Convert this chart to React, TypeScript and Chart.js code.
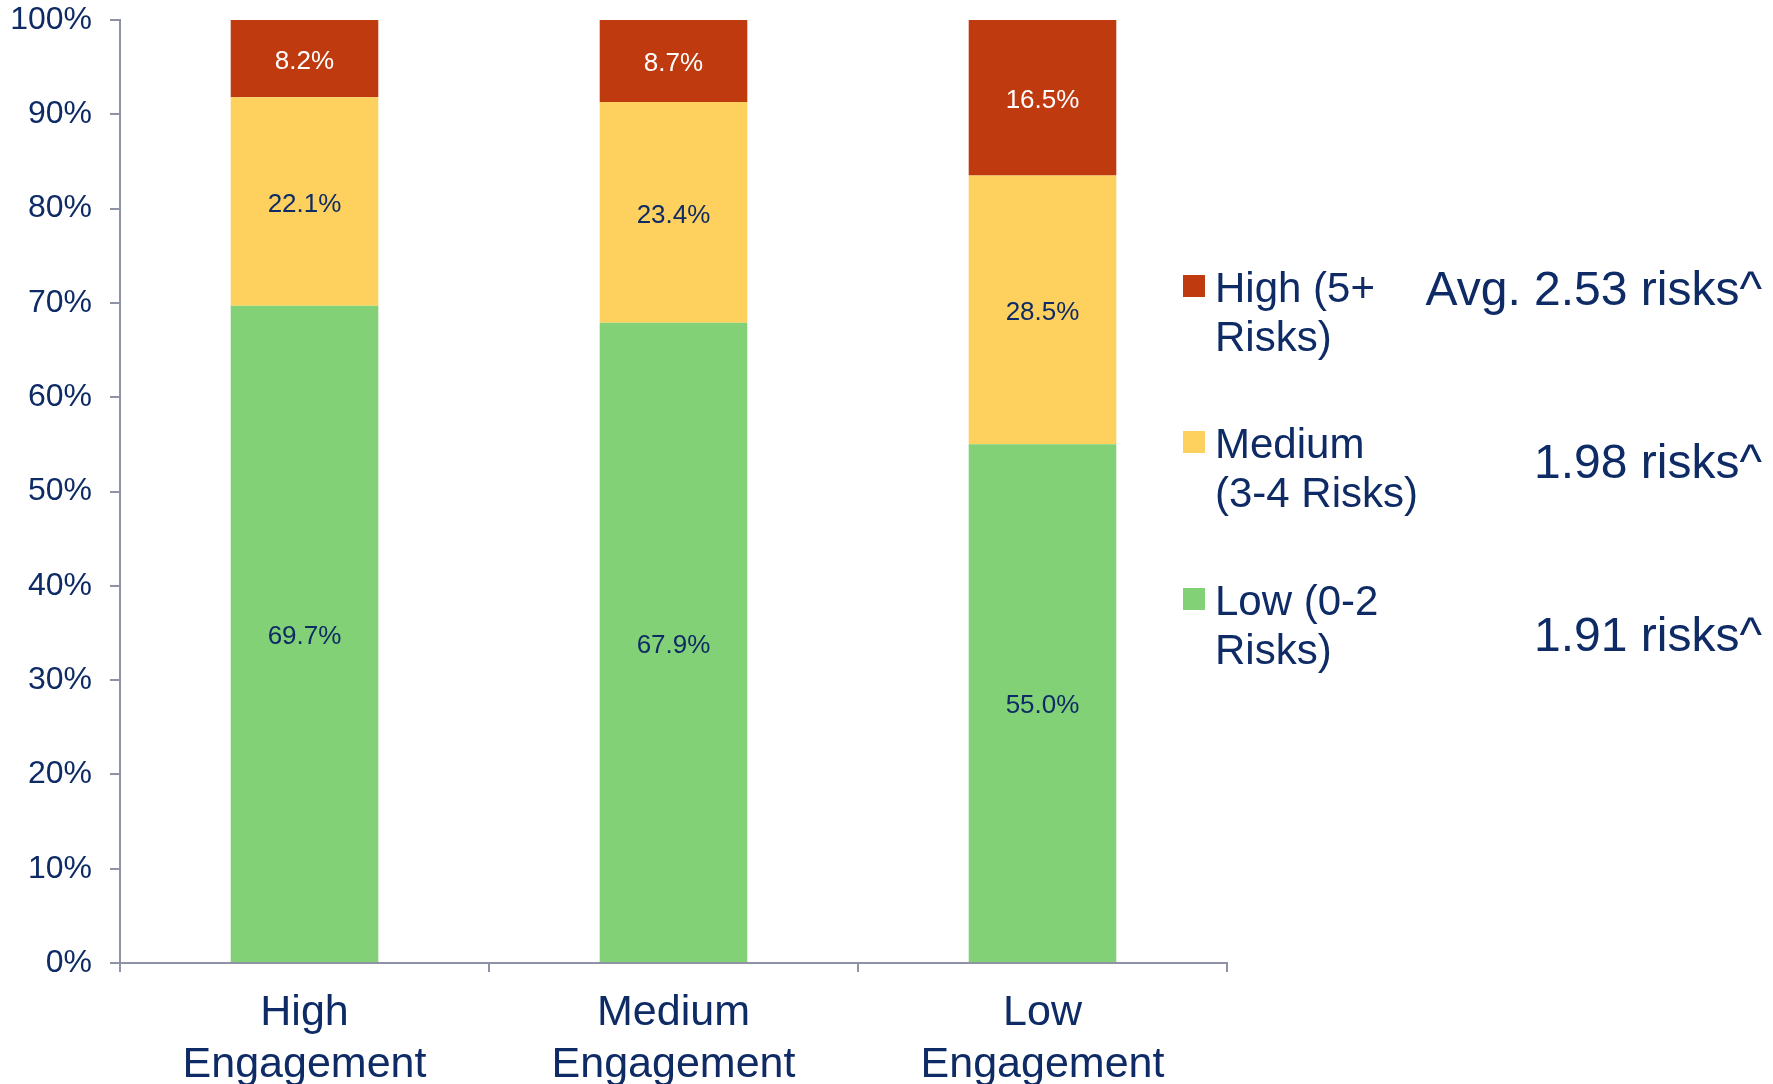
import React, { useEffect, useRef } from "react";
import { Chart, registerables } from "chart.js";

Chart.register(...registerables);

// Engagement groups along the x axis
const categories: string[][] = [
  ["High", "Engagement"],
  ["Medium", "Engagement"],
  ["Low", "Engagement"],
];

// Share of people in each risk band (%)
const lowRisk = [69.7, 67.9, 55.0];
const mediumRisk = [22.1, 23.4, 28.5];
const highRisk = [8.2, 8.7, 16.5];

// Legend text, top to bottom (High, Medium, Low)
const legendLabels: string[][] = [
  ["High (5+", "Risks)"],
  ["Medium", "(3-4 Risks)"],
  ["Low (0-2", "Risks)"],
];

// Average number of risks per band
const avgLabels = ["Avg. 2.53 risks^", "1.98 risks^", "1.91 risks^"];

const yTicks = [0, 10, 20, 30, 40, 50, 60, 70, 80, 90, 100];

const NAVY = "#0E2B66";
const AXIS = "#8D93A5";
const FONT = "'Liberation Sans', Arial, Helvetica, sans-serif";
const COLORS = { low: "#82D177", medium: "#FED05D", high: "#C03A10" };

const overlayPlugin = {
  id: "overlay",
  afterDatasetsDraw(chart: any) {
    const ctx = chart.ctx;
    ctx.save();
    // value labels centred in each segment
    ctx.font = `26px ${FONT}`;
    ctx.textAlign = "center";
    ctx.textBaseline = "middle";
    chart.data.datasets.forEach((ds: any, di: number) => {
      const meta = chart.getDatasetMeta(di);
      meta.data.forEach((bar: any, i: number) => {
        const v = ds.data[i];
        const { x, y, base } = bar.getProps(["x", "y", "base"], true);
        ctx.fillStyle = ds.labelColor;
        ctx.fillText(v.toFixed(1) + "%", x, (y + base) / 2 + 3);
      });
    });

    // legend (drawn top to bottom: High, Medium, Low)
    const order = [2, 1, 0];
    const boxY = [286, 442, 599];
    const textY = [290, 446, 603];
    const avgY = [292, 465, 638];
    order.forEach((di, r) => {
      const ds = chart.data.datasets[di];
      ctx.fillStyle = ds.backgroundColor;
      ctx.fillRect(1183, boxY[r] - 11, 22, 22);
      ctx.fillStyle = NAVY;
      ctx.font = `42px ${FONT}`;
      ctx.textAlign = "left";
      ctx.textBaseline = "middle";
      legendLabels[r].forEach((line, li) => {
        ctx.fillText(line, 1215, textY[r] + li * 49);
      });
      ctx.font = `48px ${FONT}`;
      ctx.textAlign = "right";
      ctx.fillText(avgLabels[r], 1762, avgY[r]);
    });
    ctx.restore();
  },
};

export default function App() {
  const ref = useRef<HTMLCanvasElement>(null);

  useEffect(() => {
    if (!ref.current) return;
    const chart = new Chart(ref.current, {
      type: "bar",
      data: {
        labels: categories,
        datasets: [
          { label: "Low (0-2 Risks)", data: lowRisk, backgroundColor: COLORS.low, labelColor: NAVY } as any,
          { label: "Medium (3-4 Risks)", data: mediumRisk, backgroundColor: COLORS.medium, labelColor: NAVY } as any,
          { label: "High (5+ Risks)", data: highRisk, backgroundColor: COLORS.high, labelColor: "#FFFFFF" } as any,
        ],
      },
      options: {
        responsive: false,
        animation: false,
        layout: { padding: { top: 20, right: 546, bottom: 0, left: 0 } },
        datasets: { bar: { barPercentage: 0.4, categoryPercentage: 1, borderWidth: 0 } },
        plugins: { legend: { display: false }, tooltip: { enabled: false } },
        scales: {
          x: {
            stacked: true,
            grid: { drawOnChartArea: false, drawTicks: true, tickLength: 9, color: AXIS, lineWidth: 2 },
            border: { color: AXIS, width: 2 },
            ticks: { color: NAVY, font: { family: FONT, size: 43, lineHeight: 1.21 }, padding: 15, maxRotation: 0 },
            afterFit: (axis: any) => { axis.height = 121; },
          },
          y: {
            stacked: true,
            min: 0,
            max: 100,
            afterBuildTicks: (axis: any) => { axis.ticks = yTicks.map((v) => ({ value: v })); },
            grid: { drawOnChartArea: false, drawTicks: true, tickLength: 10, color: AXIS, lineWidth: 2 },
            border: { color: AXIS, width: 2 },
            ticks: { color: NAVY, font: { family: FONT, size: 32 }, padding: 18, callback: (v: any) => v + "%" },
            afterFit: (axis: any) => {
              axis.width = 120;
              axis.paddingTop = 0;
              axis.paddingBottom = 0;
            },
          },
        },
      },
      plugins: [overlayPlugin],
    });
    return () => chart.destroy();
  }, []);

  return (
    <div style={{ position: "fixed", left: 0, top: 0, width: 1773, height: 1084, background: "#fff" }}>
      <canvas ref={ref} width={1773} height={1084} />
    </div>
  );
}
